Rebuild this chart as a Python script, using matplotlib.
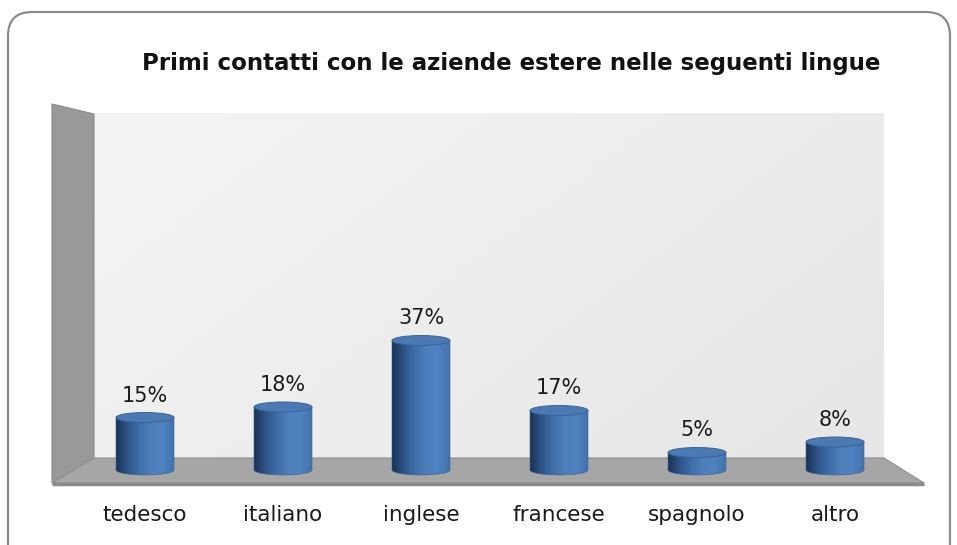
import numpy as np
import matplotlib.pyplot as plt
from matplotlib.patches import Polygon, Ellipse, PathPatch, FancyBboxPatch
from matplotlib.path import Path
from matplotlib.colors import LinearSegmentedColormap
from matplotlib.transforms import IdentityTransform

categories = ['tedesco', 'italiano', 'inglese', 'francese', 'spagnolo', 'altro']
values = [15, 18, 37, 17, 5, 8]
value_labels = ['15%', '18%', '37%', '17%', '5%', '8%']
title = 'Primi contatti con le aziende estere nelle seguenti lingue'

W, H = 957, 545
fig = plt.figure(figsize=(W / 100, H / 100), dpi=100)
ax = fig.add_axes([0, 0, 1, 1])

# layout in pixels: bar centres at x0 + step*i, floor at y0, scale px per percent
x0, step, y0, scale = 145, 138, 470, 3.5
ax.set_xlim(-x0 / step, (W - x0) / step)
ax.set_ylim((y0 - H) / scale, y0 / scale)
ax.axis('off')


def px(x):
    return (x - x0) / step


def py(y):
    return (y0 - y) / scale


# outer rounded frame
frame = FancyBboxPatch((8, -30), 942, 563, boxstyle='round,pad=0,rounding_size=24',
                       transform=IdentityTransform(), fc='white', ec='#8c8c8c', lw=1.6)
fig.patches.append(frame)
frame.set_figure(fig)
frame.set_zorder(-10)
fig.patch.set_facecolor('white')
ax.set_zorder(1)
ax.patch.set_alpha(0)

# back wall with soft gradient
gy, gx = np.mgrid[0:1:50j, 0:1:50j]
wall = 0.955 - 0.035 * gx - 0.02 * gy
ax.imshow(wall, cmap='gray', vmin=0, vmax=1, extent=(px(94), px(884), py(458), py(114)),
          aspect='auto', zorder=1, interpolation='bilinear')

# left wall
ax.add_patch(Polygon([(px(52), py(104)), (px(94), py(114)), (px(94), py(458)), (px(52), py(483))],
                     closed=True, fc='#999999', ec='#8a8a8a', lw=0.8, zorder=2))
# floor
ax.add_patch(Polygon([(px(94), py(458)), (px(884), py(458)), (px(924), py(483)), (px(52), py(483))],
                     closed=True, fc='#a6a6a6', ec='#8f8f8f', lw=0.8, zorder=2))
ax.plot([px(52), px(924)], [py(484), py(484)], color='#8a8a8a', lw=2.5, zorder=2,
        solid_capstyle='butt')

# cylinders
cyl = LinearSegmentedColormap.from_list('cyl', ['#1b3356', '#2e5487', '#3f6ea8', '#4d7fbd',
                                                '#4f82c0', '#4373ad'])
hw = 29 / step
eh = 5 / scale
for i, v in enumerate(values):
    t = np.linspace(np.pi, 2 * np.pi, 40)
    verts = [(i - hw, v), (i - hw, 0)] + [(i + hw * np.cos(a), eh * np.sin(a)) for a in t] + \
            [(i + hw, v), (i - hw, v)]
    body = PathPatch(Path(verts), fc='none', ec='#3a5f8f', lw=0.4, zorder=4)
    ax.add_patch(body)
    grad = np.linspace(0, 1, 100).reshape(1, -1)
    im = ax.imshow(grad, cmap=cyl, extent=(i - hw, i + hw, -eh, v), aspect='auto',
                   zorder=3, interpolation='bilinear')
    im.set_clip_path(body)
    ax.add_patch(Ellipse((i, v), 2 * hw, 2 * eh, fc='#4a79b3', ec='#3a6396', lw=0.7, zorder=5))
    ax.text(i, v + 22 / scale, value_labels[i], ha='center', va='center', fontsize=15,
            family='DejaVu Sans', color='#1a1a1a', zorder=6)

for i, c in enumerate(categories):
    ax.text(i, py(515), c, ha='center', va='center', fontsize=15.5, family='DejaVu Sans',
            color='#1a1a1a')

ax.text(px(511), py(64), title, ha='center', va='center', fontsize=16.5, family='DejaVu Sans',
        weight='bold', color='#111111')

ax.set_xlim(-x0 / step, (W - x0) / step)
ax.set_ylim((y0 - H) / scale, y0 / scale)
fig.savefig('out.png', dpi=100)
